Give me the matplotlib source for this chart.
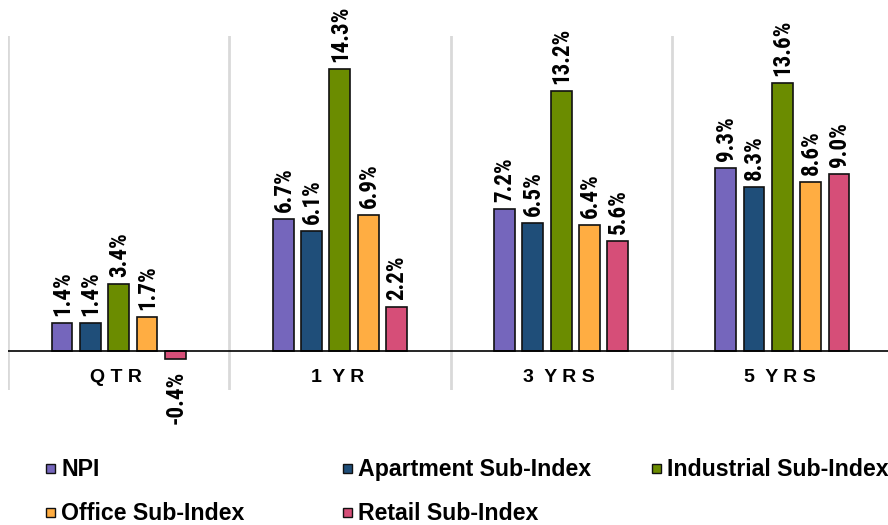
import matplotlib
matplotlib.use("Agg")
import matplotlib.pyplot as plt
from matplotlib import font_manager
from matplotlib.font_manager import FontProperties
from matplotlib.patches import Rectangle

# Returns by period and sub-index
periods = ["QTR", "1 YR", "3 YRS", "5 YRS"]
period_labels = ["Q T R", "1  Y R", "3  Y R S", "5  Y R S"]
series = ["NPI", "Apartment Sub-Index", "Industrial Sub-Index",
          "Office Sub-Index", "Retail Sub-Index"]
npi = [1.4, 6.7, 7.2, 9.3]
apartment = [1.4, 6.1, 6.5, 8.3]
industrial = [3.4, 14.3, 13.2, 13.6]
office = [1.7, 6.9, 6.4, 8.6]
retail = [-0.4, 2.2, 5.6, 9.0]
values = [npi, apartment, industrial, office, retail]
colors = ["#7566bc", "#1f4e79", "#6b8c00", "#ffad42", "#d64e78"]

plt.rcParams["font.family"] = ["Liberation Sans", "DejaVu Sans"]


def pick_condensed_bold():
    """Return a condensed bold face if one is installed, else Liberation Sans Bold."""
    wanted = ["Liberation Sans Narrow", "Arial Narrow", "Roboto Condensed",
              "Noto Sans", "Open Sans", "DejaVu Sans"]
    cands = []
    for f in font_manager.fontManager.ttflist:
        w = f.weight
        if isinstance(w, str):
            w = {"bold": 700, "semibold": 600, "demibold": 600,
                 "heavy": 800, "black": 900, "extra bold": 800}.get(w.lower(), 400)
        if f.stretch in ("condensed", "semi-condensed", "extra-condensed") \
                and 600 <= w <= 800 and f.style == "normal":
            for rank, n in enumerate(wanted):
                if f.name.startswith(n):
                    cands.append((rank, abs(w - 700), f.fname))
                    break
    if cands:
        cands.sort()
        return FontProperties(fname=cands[0][2])
    return FontProperties(family="Liberation Sans", weight="bold")


W, H = 888, 525
fig = plt.figure(figsize=(W / 100, H / 100), dpi=100)
fig.patch.set_facecolor("white")
renderer = fig.canvas.get_renderer()


def fitted(fp, text, target_px, cap):
    """Copy of fp sized so that text spans target_px, limited to cap points."""
    probe = fp.copy()
    probe.set_size(10)
    t = fig.text(0, 0, text, fontproperties=probe)
    width = t.get_window_extent(renderer).width
    t.remove()
    out = fp.copy()
    out.set_size(min(cap, 10 * target_px / width))
    return out


value_font = fitted(pick_condensed_bold(), "14.3%", 57, 19.0)
legend_font = fitted(FontProperties(family="Liberation Sans", weight="bold"),
                     "Apartment Sub-Index", 234, 17.0)

# axes spans four 221-px category slots, the last one running off the right edge
ax_left, ax_right, ax_top, ax_bottom = 8, 893, 36, 390
ax = fig.add_axes([ax_left / W, 1 - ax_bottom / H,
                   (ax_right - ax_left) / W, (ax_bottom - ax_top) / H])
ax.set_xlim(0, 4)
ax.set_ylim(-2, 16)
for s in ax.spines.values():
    s.set_visible(False)
ax.set_xticks([])
ax.set_yticks([])

# category separators
for xv in range(5):
    ax.axvline(xv, color="#d9d9d9", lw=2, zorder=0)
ax.axhline(0, color="black", lw=1.2, zorder=3)

step = 0.128
width = 0.094
for j, (vals, col) in enumerate(zip(values, colors)):
    xs = [i + 0.5 + (j - 2) * step for i in range(len(periods))]
    ax.bar(xs, vals, width=width, color=col, edgecolor="#111111",
           linewidth=1.2, zorder=2)
    for x, v in zip(xs, vals):
        if v >= 0:
            ax.annotate(f"{v:.1f}%", (x, v), xytext=(0.5, 5),
                        textcoords="offset points", rotation=90,
                        ha="center", va="bottom", fontproperties=value_font)
        else:
            ax.annotate(f"{v:.1f}%", (x, v), xytext=(0.5, -9),
                        textcoords="offset points", rotation=90,
                        ha="center", va="top", fontproperties=value_font)

for i, lab in enumerate(period_labels):
    ax.text(i + 0.49, -1.37, lab, ha="center", va="center",
            fontsize=14, fontweight="bold")

# legend laid out in two rows of up to three entries
legend_slots = [(46, 468), (343, 468), (652, 468), (46, 512), (343, 512)]
box = 9
for (px, py), name, col in zip(legend_slots, series, colors):
    fig.add_artist(Rectangle((px / W, 1 - (py + box / 2) / H), box / W, box / H,
                             transform=fig.transFigure, facecolor=col,
                             edgecolor="#111111", linewidth=1.0))
    fig.text((px + box + 6) / W, 1 - (py + 8) / H, name, ha="left",
             va="baseline", fontproperties=legend_font)

fig.savefig("out.png", dpi=100, facecolor="white")
